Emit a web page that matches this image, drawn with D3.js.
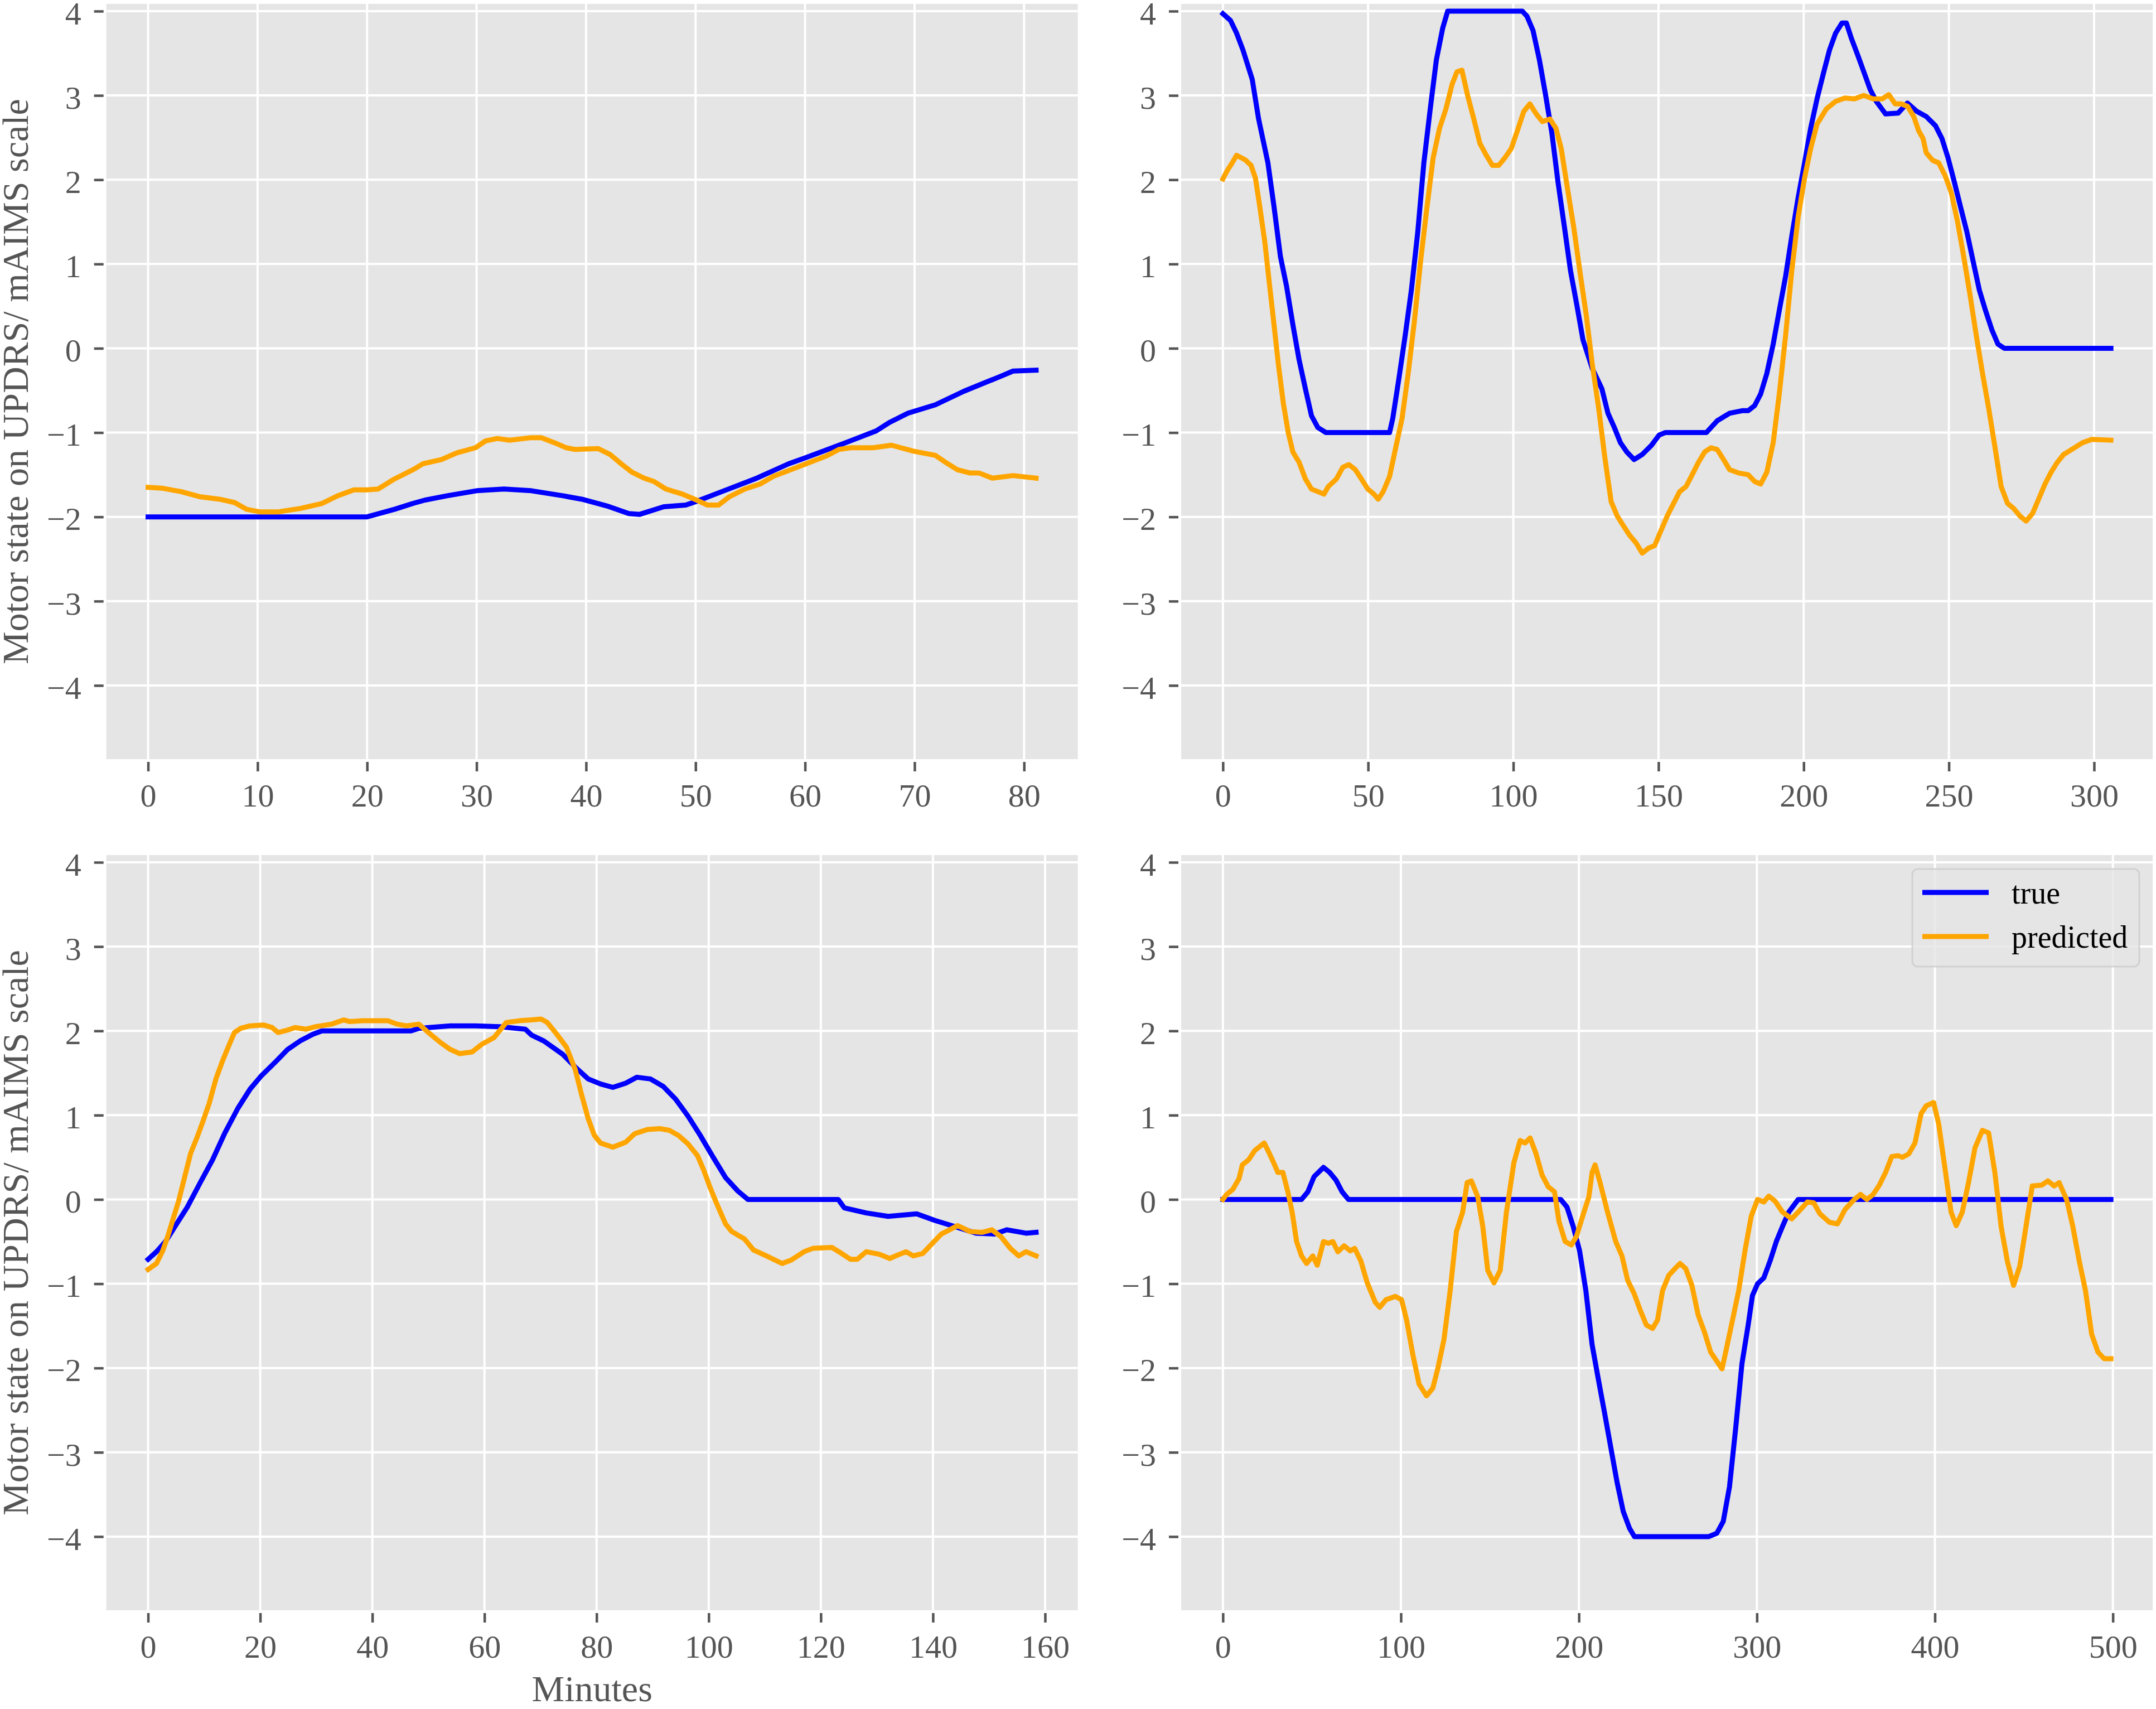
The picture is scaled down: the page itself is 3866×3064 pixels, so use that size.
<!DOCTYPE html>
<html><head><meta charset="utf-8">
<script src="https://cdn.jsdelivr.net/npm/d3@7"></script>
<style>body{margin:0;background:#fff} svg{display:block}</style>
</head><body><svg id="c" width="3866" height="3064"></svg>
<script>
// ---------- DATA ----------
// Panel 1 (top-left)
const p1TrueMin = [0, 20, 22.5, 24.2, 25.3, 27.3, 30, 32.5, 35, 37.9, 39.6, 41.9, 43.9, 44.9, 47.1, 49.1, 50, 52.8, 55.6, 58.5, 60, 63.1, 66.5, 67.7, 69.4, 71.9, 74.5, 77.9, 79, 81.1];
const p1TrueVal = [-2, -2, -1.91, -1.84, -1.80, -1.75, -1.69, -1.67, -1.69, -1.75, -1.79, -1.87, -1.96, -1.97, -1.88, -1.86, -1.82, -1.68, -1.54, -1.37, -1.30, -1.15, -0.98, -0.88, -0.77, -0.67, -0.51, -0.33, -0.27, -0.26];
const p1PredMin = [0, 1.3, 3.0, 4.7, 6.5, 7.9, 9.0, 10.2, 11.9, 13.9, 15.9, 17.3, 18.8, 20, 21.0, 22.5, 24.2, 25.1, 26.8, 28.2, 29.9, 30.8, 31.9, 33.0, 35.0, 35.9, 37.1, 38.2, 39.0, 41.1, 42.2, 43.3, 44.2, 45.3, 46.2, 47.3, 48.8, 49.9, 51.1, 52.1, 53.1, 54.5, 55.9, 57.1, 58.5, 59.9, 61.9, 63.1, 64.2, 66.2, 67.9, 69.9, 71.9, 72.8, 73.9, 75.1, 75.9, 77.1, 79.0, 81.1];
const p1PredVal = [-1.65, -1.66, -1.70, -1.76, -1.79, -1.83, -1.91, -1.94, -1.94, -1.90, -1.84, -1.75, -1.68, -1.68, -1.67, -1.55, -1.44, -1.37, -1.32, -1.24, -1.18, -1.10, -1.07, -1.09, -1.06, -1.06, -1.12, -1.18, -1.20, -1.19, -1.26, -1.38, -1.47, -1.54, -1.58, -1.67, -1.73, -1.79, -1.86, -1.86, -1.76, -1.67, -1.61, -1.52, -1.45, -1.38, -1.28, -1.20, -1.18, -1.18, -1.15, -1.22, -1.27, -1.35, -1.44, -1.48, -1.48, -1.54, -1.51, -1.54];

// Panel 2 (top-right)
const p2TrueMin = [0, 2.6, 4.7, 6.9, 10.1, 12.3, 15.5, 17.6, 19.8, 21.9, 24.1, 26.2, 28.4, 30.5, 32.7, 35.5, 57.4, 58.5, 60.6, 62.8, 64.9, 67.1, 69.2, 71.4, 73.5, 75.7, 77.4, 103.1, 104.7, 106.8, 109.0, 111.1, 113.3, 115.4, 117.6, 119.7, 121.9, 124.0, 127.2, 130.5, 132.6, 134.8, 136.9, 139.1, 141.6, 144.4, 147.6, 150.2, 152.3, 166.5, 170.2, 174.5, 178.8, 180.9, 183.1, 185.2, 187.3, 189.5, 191.6, 193.8, 195.9, 198.1, 200.3, 202.4, 204.6, 206.7, 208.9, 211.0, 213.2, 214.7, 216.4, 218.6, 220.7, 222.9, 225.0, 228.2, 232.5, 235.7, 239.0, 242.2, 245.4, 247.6, 249.7, 251.9, 254.0, 256.2, 258.3, 260.5, 262.6, 264.8, 266.9, 269.1, 305.8];
const p2TrueVal = [3.97, 3.89, 3.74, 3.54, 3.19, 2.72, 2.20, 1.68, 1.09, 0.74, 0.28, -0.13, -0.48, -0.80, -0.94, -1.0, -1.0, -0.83, -0.36, 0.16, 0.69, 1.38, 2.20, 2.84, 3.42, 3.80, 4.0, 4.0, 3.94, 3.77, 3.42, 3.01, 2.55, 1.97, 1.44, 0.92, 0.51, 0.10, -0.24, -0.48, -0.77, -0.94, -1.12, -1.23, -1.32, -1.26, -1.15, -1.03, -1.0, -1.0, -0.86, -0.77, -0.74, -0.74, -0.68, -0.54, -0.30, 0.05, 0.45, 0.86, 1.33, 1.79, 2.20, 2.61, 2.96, 3.25, 3.54, 3.74, 3.86, 3.86, 3.68, 3.48, 3.28, 3.07, 2.93, 2.78, 2.79, 2.91, 2.81, 2.75, 2.64, 2.49, 2.26, 1.97, 1.68, 1.38, 1.04, 0.69, 0.45, 0.22, 0.05, 0, 0];
const p2PredMin = [0, 1.5, 3.2, 4.7, 6.4, 7.9, 9.7, 11.2, 12.7, 14.4, 16.1, 17.6, 19.1, 20.8, 22.5, 24.1, 26.2, 28.4, 30.5, 32.7, 34.8, 36.3, 39.1, 41.3, 43.4, 45.6, 47.7, 49.9, 52.0, 53.5, 55.2, 57.4, 59.5, 61.7, 63.8, 66.0, 68.1, 70.3, 72.4, 74.6, 76.8, 78.9, 80.6, 82.3, 84.2, 86.4, 88.5, 90.7, 92.8, 95.0, 97.1, 99.3, 101.4, 103.6, 105.7, 107.9, 110.0, 112.6, 114.7, 116.5, 118.6, 120.8, 122.9, 125.1, 127.2, 129.4, 131.5, 133.7, 135.8, 138.0, 140.1, 142.3, 144.4, 146.6, 148.7, 150.9, 153.0, 155.2, 157.3, 159.5, 161.6, 163.8, 165.9, 168.1, 170.2, 172.4, 174.5, 177.7, 180.9, 183.1, 185.2, 187.3, 189.5, 191.6, 193.8, 195.9, 198.1, 200.3, 202.4, 204.6, 207.8, 211.0, 214.2, 217.5, 220.7, 223.9, 227.1, 229.3, 231.5, 233.6, 235.8, 237.9, 239.6, 241.1, 242.2, 244.4, 246.5, 248.7, 250.8, 253.0, 255.1, 257.3, 259.4, 261.6, 263.7, 265.9, 268.0, 270.2, 272.3, 274.5, 276.6, 278.8, 280.9, 283.1, 285.2, 287.4, 289.5, 292.8, 296.0, 299.2, 305.8];
const p2PredVal = [2.01, 2.11, 2.20, 2.29, 2.26, 2.23, 2.17, 2.02, 1.68, 1.27, 0.74, 0.28, -0.19, -0.65, -1.0, -1.23, -1.35, -1.55, -1.67, -1.70, -1.73, -1.64, -1.55, -1.41, -1.38, -1.44, -1.55, -1.67, -1.73, -1.79, -1.70, -1.52, -1.18, -0.83, -0.30, 0.34, 1.04, 1.68, 2.26, 2.61, 2.84, 3.13, 3.28, 3.30, 3.01, 2.72, 2.43, 2.29, 2.17, 2.17, 2.26, 2.37, 2.58, 2.81, 2.90, 2.78, 2.69, 2.72, 2.61, 2.37, 1.91, 1.44, 0.92, 0.40, -0.19, -0.71, -1.29, -1.82, -1.99, -2.11, -2.22, -2.31, -2.43, -2.37, -2.34, -2.16, -1.99, -1.84, -1.70, -1.64, -1.50, -1.35, -1.23, -1.18, -1.20, -1.32, -1.44, -1.48, -1.50, -1.58, -1.61, -1.47, -1.12, -0.54, 0.16, 0.92, 1.56, 2.02, 2.37, 2.66, 2.84, 2.93, 2.97, 2.96, 3.00, 2.96, 2.96, 3.01, 2.90, 2.90, 2.87, 2.75, 2.58, 2.49, 2.32, 2.23, 2.20, 2.05, 1.85, 1.50, 1.09, 0.63, 0.16, -0.30, -0.71, -1.18, -1.64, -1.84, -1.90, -1.99, -2.05, -1.96, -1.79, -1.61, -1.47, -1.35, -1.26, -1.19, -1.12, -1.08, -1.09];

// Panel 3 (bottom-left)
const p3TrueMin = [0, 1.5, 3.1, 4.8, 7.0, 9.3, 11.5, 13.7, 16.0, 18.2, 20.1, 22.7, 24.9, 27.1, 29.4, 31.0, 46.9, 48.3, 53.9, 58.4, 62.8, 67.3, 68.4, 70.6, 74.0, 76.2, 78.5, 80.7, 82.9, 85.2, 87.2, 89.6, 91.9, 94.1, 96.3, 98.5, 100.8, 103.0, 105.2, 107.0, 123.1, 124.2, 128.1, 132.0, 137.1, 140.4, 143.8, 147.7, 151.0, 153.2, 156.6, 158.4];
const p3TrueVal = [-0.71, -0.62, -0.50, -0.32, -0.09, 0.20, 0.47, 0.79, 1.08, 1.31, 1.46, 1.63, 1.78, 1.88, 1.96, 2.0, 2.0, 2.03, 2.06, 2.06, 2.05, 2.02, 1.95, 1.88, 1.72, 1.57, 1.43, 1.37, 1.33, 1.38, 1.45, 1.43, 1.34, 1.19, 0.99, 0.76, 0.50, 0.26, 0.10, 0, 0, -0.10, -0.16, -0.20, -0.17, -0.25, -0.32, -0.40, -0.41, -0.36, -0.40, -0.39];
const p3PredMin = [0, 1.5, 2.6, 3.5, 4.6, 5.4, 6.5, 7.6, 8.7, 9.8, 10.9, 12.1, 13.2, 14.3, 15.4, 16.5, 18.2, 20.6, 22.1, 23.2, 24.9, 26.2, 28.2, 29.9, 32.7, 34.9, 36.0, 38.3, 40.5, 42.8, 44.4, 46.1, 48.3, 50.0, 52.2, 53.9, 55.6, 57.8, 59.5, 61.7, 63.9, 66.2, 68.4, 70.1, 71.2, 72.9, 74.6, 76.2, 77.3, 78.5, 79.6, 80.7, 82.9, 85.2, 86.8, 89.1, 91.3, 93.0, 94.6, 96.3, 98.0, 99.1, 100.2, 101.3, 103.0, 104.1, 106.4, 108.0, 110.3, 113.1, 114.7, 117.0, 118.6, 122.0, 123.7, 125.3, 126.5, 128.1, 130.4, 132.3, 133.7, 135.2, 136.5, 138.2, 139.9, 141.5, 144.4, 146.6, 148.8, 150.5, 152.1, 153.8, 155.3, 156.6, 158.4];
const p3PredVal = [-0.83, -0.76, -0.61, -0.44, -0.20, -0.03, 0.26, 0.55, 0.73, 0.93, 1.14, 1.43, 1.63, 1.81, 1.98, 2.03, 2.06, 2.07, 2.04, 1.98, 2.01, 2.04, 2.02, 2.05, 2.08, 2.13, 2.11, 2.12, 2.12, 2.12, 2.08, 2.06, 2.08, 1.98, 1.86, 1.78, 1.73, 1.75, 1.84, 1.92, 2.10, 2.12, 2.13, 2.14, 2.10, 1.96, 1.81, 1.54, 1.25, 0.96, 0.76, 0.67, 0.62, 0.68, 0.78, 0.83, 0.84, 0.82, 0.76, 0.66, 0.52, 0.35, 0.15, -0.03, -0.29, -0.38, -0.47, -0.60, -0.67, -0.76, -0.72, -0.62, -0.58, -0.57, -0.64, -0.71, -0.71, -0.62, -0.65, -0.70, -0.66, -0.62, -0.67, -0.64, -0.52, -0.41, -0.31, -0.38, -0.39, -0.36, -0.44, -0.58, -0.67, -0.62, -0.67];

// Panel 4 (bottom-right)
const p4TrueMin = [0, 44.2, 47.7, 51.2, 56.5, 60.0, 63.5, 67.0, 70.5, 189.8, 193.3, 196.8, 200.4, 203.9, 207.4, 210.9, 214.4, 217.9, 221.4, 224.9, 228.4, 231.2, 273.0, 277.5, 281.1, 284.6, 288.1, 291.6, 295.1, 297.5, 300.4, 303.9, 307.4, 310.9, 314.4, 317.9, 323.2, 498.9];
const p4TrueVal = [0, 0, 0.09, 0.27, 0.38, 0.32, 0.23, 0.09, 0, 0, -0.09, -0.32, -0.61, -1.08, -1.72, -2.13, -2.53, -2.94, -3.35, -3.70, -3.90, -4.0, -4.0, -3.96, -3.82, -3.41, -2.71, -1.95, -1.49, -1.14, -1.0, -0.93, -0.73, -0.50, -0.32, -0.15, 0, 0];
const p4PredMin = [0, 2.1, 5.6, 9.1, 10.9, 14.4, 17.9, 21.4, 23.2, 26.0, 28.4, 30.9, 33.7, 36.5, 38.9, 41.4, 44.2, 47.0, 50.5, 53.0, 56.5, 59.3, 61.8, 64.6, 68.1, 71.6, 74.0, 77.5, 81.1, 85.6, 88.1, 91.6, 96.8, 100.4, 103.2, 106.7, 110.2, 114.4, 117.9, 120.7, 124.2, 127.7, 131.2, 134.7, 137.2, 139.6, 143.2, 146.0, 148.8, 152.3, 155.8, 159.3, 163.5, 167.0, 169.8, 172.6, 175.8, 179.3, 182.8, 186.3, 188.8, 192.3, 195.8, 198.6, 202.1, 205.6, 207.4, 209.1, 211.9, 216.1, 220.7, 224.2, 227.4, 230.9, 234.4, 237.9, 241.4, 244.2, 247.0, 250.5, 254.0, 256.8, 260.0, 263.5, 267.0, 270.5, 274.0, 277.5, 280.4, 282.8, 286.3, 289.8, 293.3, 296.8, 300.4, 303.9, 306.7, 310.2, 314.4, 319.6, 323.2, 328.4, 331.9, 335.4, 340.7, 345.3, 349.5, 354.7, 358.2, 361.8, 365.3, 368.8, 372.3, 375.8, 379.3, 381.8, 385.3, 388.8, 392.3, 395.1, 399.3, 402.1, 405.6, 409.1, 412.0, 415.4, 418.9, 422.5, 426.7, 430.2, 433.7, 437.2, 440.7, 444.2, 447.7, 451.2, 454.7, 460.0, 463.5, 467.0, 469.8, 474.0, 477.5, 481.1, 484.6, 488.1, 491.6, 495.1, 498.9];
const p4PredVal = [0, 0.06, 0.12, 0.25, 0.41, 0.47, 0.58, 0.64, 0.67, 0.55, 0.44, 0.32, 0.32, 0.09, -0.15, -0.50, -0.67, -0.76, -0.67, -0.78, -0.50, -0.52, -0.50, -0.62, -0.55, -0.61, -0.58, -0.73, -0.99, -1.22, -1.28, -1.19, -1.15, -1.19, -1.43, -1.84, -2.19, -2.33, -2.24, -2.01, -1.66, -1.08, -0.38, -0.15, 0.20, 0.22, 0.03, -0.32, -0.84, -0.99, -0.84, -0.15, 0.44, 0.70, 0.67, 0.73, 0.55, 0.29, 0.15, 0.09, -0.26, -0.50, -0.54, -0.44, -0.20, 0.03, 0.32, 0.41, 0.20, -0.15, -0.50, -0.67, -0.96, -1.11, -1.31, -1.49, -1.53, -1.43, -1.08, -0.90, -0.82, -0.76, -0.82, -1.02, -1.37, -1.57, -1.81, -1.92, -2.01, -1.78, -1.43, -1.08, -0.61, -0.20, 0, -0.03, 0.04, -0.02, -0.15, -0.23, -0.15, -0.03, -0.04, -0.17, -0.27, -0.29, -0.12, 0, 0.06, 0, 0.06, 0.17, 0.32, 0.51, 0.52, 0.50, 0.54, 0.67, 1.02, 1.11, 1.15, 0.90, 0.38, -0.15, -0.31, -0.15, 0.20, 0.61, 0.82, 0.79, 0.32, -0.32, -0.73, -1.02, -0.79, -0.32, 0.16, 0.17, 0.22, 0.16, 0.20, 0, -0.32, -0.73, -1.08, -1.60, -1.81, -1.89, -1.89];

// Ticks and labels
const yTickValues = [-4, -3, -2, -1, 0, 1, 2, 3, 4];
const xTicksP1 = [0, 10, 20, 30, 40, 50, 60, 70, 80];
const xTicksP2 = [0, 50, 100, 150, 200, 250, 300];
const xTicksP3 = [0, 20, 40, 60, 80, 100, 120, 140, 160];
const xTicksP4 = [0, 100, 200, 300, 400, 500];
const seriesNames = ["true", "predicted"];
const seriesColors = ["#0000ff", "#ffa500"];
const yLabelText = "Motor state on UPDRS/ mAIMS scale";
const xLabelText = "Minutes";

// ---------- LAYOUT ----------
const svg = d3.select("#c");
const FONT = "'Liberation Serif', 'Times New Roman', serif";
const cols = [[190.7, 1932.7], [2118, 3860]];
const rows = [[7, 1361], [1533, 2887]];
const yDomain = [-4.874, 4.086];
const MARGIN = 0.047;

const zip = (a, b) => a.map((v, i) => [v, b[i]]);
const panels = [
  {c: 0, r: 0, ticks: xTicksP1, tr: zip(p1TrueMin, p1TrueVal), pr: zip(p1PredMin, p1PredVal)},
  {c: 1, r: 0, ticks: xTicksP2, tr: zip(p2TrueMin, p2TrueVal), pr: zip(p2PredMin, p2PredVal)},
  {c: 0, r: 1, ticks: xTicksP3, tr: zip(p3TrueMin, p3TrueVal), pr: zip(p3PredMin, p3PredVal), xlabel: true},
  {c: 1, r: 1, ticks: xTicksP4, tr: zip(p4TrueMin, p4TrueVal), pr: zip(p4PredMin, p4PredVal), legend: true}
];

panels.forEach(p => {
  const [x0, x1] = cols[p.c];
  const [y0, y1] = rows[p.r];
  const all = p.tr.concat(p.pr).map(d => d[0]);
  const lo = d3.min(all), hi = d3.max(all), span = hi - lo;
  const xs = d3.scaleLinear().domain([lo - MARGIN * span, hi + MARGIN * span]).range([x0, x1]);
  const ys = d3.scaleLinear().domain(yDomain).range([y1, y0]);
  const g = svg.append("g");

  g.append("rect").attr("x", x0).attr("y", y0).attr("width", x1 - x0).attr("height", y1 - y0).attr("fill", "#e5e5e5");

  // grid
  g.append("g").selectAll("line").data(p.ticks).join("line")
    .attr("x1", d => xs(d)).attr("x2", d => xs(d)).attr("y1", y0).attr("y2", y1)
    .attr("stroke", "#fff").attr("stroke-width", 4);
  g.append("g").selectAll("line").data(yTickValues).join("line")
    .attr("x1", x0).attr("x2", x1).attr("y1", d => ys(d)).attr("y2", d => ys(d))
    .attr("stroke", "#fff").attr("stroke-width", 4);

  // x axis
  const xAxis = d3.axisBottom(xs).tickValues(p.ticks).tickSize(17).tickPadding(22)
    .tickFormat(d => String(d).replace("-", "\u2212"));
  const gx = g.append("g").attr("transform", `translate(0,${y1 + 5})`).call(xAxis);
  gx.select(".domain").remove();
  gx.selectAll(".tick line").attr("stroke", "#555").attr("stroke-width", 4.5);
  gx.selectAll(".tick text").attr("fill", "#555").attr("font-family", FONT).attr("font-size", 58);

  // y axis
  const yAxis = d3.axisLeft(ys).tickValues(yTickValues).tickSize(17).tickPadding(23)
    .tickFormat(d => (d < 0 ? "\u2212" + Math.abs(d) : String(d)));
  const gy = g.append("g").attr("transform", `translate(${x0 - 5},0)`).call(yAxis);
  gy.select(".domain").remove();
  gy.selectAll(".tick line").attr("stroke", "#555").attr("stroke-width", 4.5);
  gy.selectAll(".tick text").attr("fill", "#555").attr("font-family", FONT).attr("font-size", 58)
    .attr("dy", "0.4em");

  // lines
  const line = d3.line().x(d => xs(d[0])).y(d => ys(d[1]));
  [p.tr, p.pr].forEach((data, i) => {
    g.append("path").datum(data).attr("d", line).attr("fill", "none")
      .attr("stroke", seriesColors[i]).attr("stroke-width", 9)
      .attr("stroke-linejoin", "round").attr("stroke-linecap", "square");
  });

  // y label for left column
  if (p.c === 0) {
    svg.append("text").attr("transform", `translate(50,${(y0 + y1) / 2}) rotate(-90)`)
      .attr("text-anchor", "middle").attr("font-family", FONT).attr("font-size", 66)
      .attr("fill", "#555").text(yLabelText);
  }
  if (p.xlabel) {
    svg.append("text").attr("x", (x0 + x1) / 2).attr("y", 3050)
      .attr("text-anchor", "middle").attr("font-family", FONT).attr("font-size", 66)
      .attr("fill", "#555").text(xLabelText);
  }
  if (p.legend) {
    const lx = 3429, ly = 1558, lw = 407, lh = 175;
    const lg = svg.append("g");
    lg.append("rect").attr("x", lx).attr("y", ly).attr("width", lw).attr("height", lh)
      .attr("rx", 10).attr("fill", "#e5e5e5").attr("fill-opacity", 0.8)
      .attr("stroke", "#cccccc").attr("stroke-opacity", 0.8).attr("stroke-width", 3);
    seriesNames.forEach((name, i) => {
      const yy = 1600 + i * 79;
      lg.append("line").attr("x1", 3447).attr("x2", 3566).attr("y1", yy).attr("y2", yy)
        .attr("stroke", seriesColors[i]).attr("stroke-width", 9);
      lg.append("text").attr("x", 3607).attr("y", yy + 20).attr("font-family", FONT)
        .attr("font-size", 56).attr("fill", "#000").text(name);
    });
  }
});
</script></body></html>
